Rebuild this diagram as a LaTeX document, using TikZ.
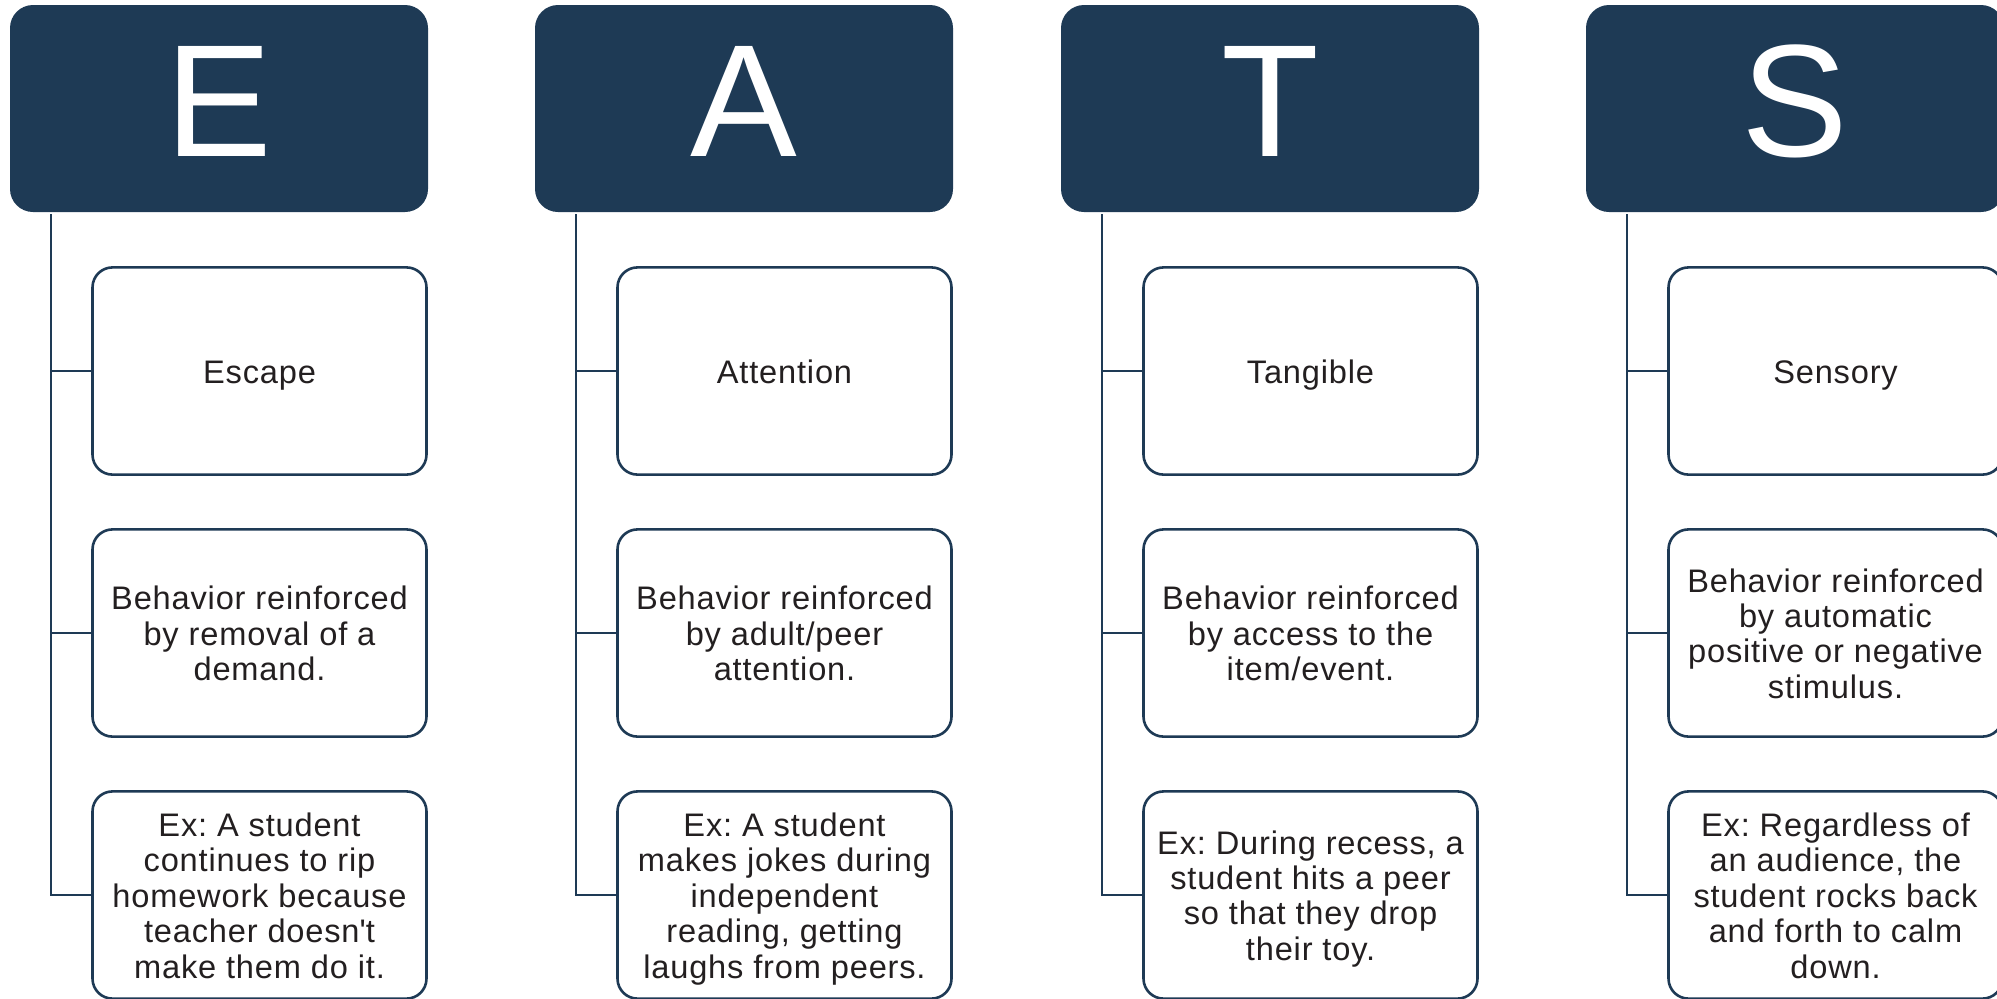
\documentclass[tikz,border=0pt]{standalone}
\usepackage{fontspec}
\setmainfont{Liberation Sans}
\newfontfamily\boxfont[LetterSpace=2.5]{Liberation Sans}
\frenchspacing
\definecolor{navy}{HTML}{1E3A55}
\definecolor{ink}{HTML}{231F20}
% struts that centre a text block on its cap height
\newcommand\topstrut{\rule{0pt}{16.2pt}}
\newcommand\botstrut{\rule[-4pt]{0pt}{0pt}}
\tikzset{
  header/.style={fill=navy, rounded corners=11.5pt, minimum width=209pt,
    minimum height=103.5pt, inner sep=0pt, text=white,
    font=\fontsize{80}{80}\selectfont, text height=57.3pt, text depth=9pt},
  item/.style={draw=navy, line width=1.3pt, fill=white, rounded corners=10pt,
    minimum width=167pt, minimum height=103.6pt, inner sep=0pt},
  itemtext/.style={align=center, text=ink, inner sep=0pt,
    font=\boxfont\fontsize{16.3}{17.7}\selectfont},
  link/.style={draw=navy, line width=1.4pt},
}
% one column: key, left edge, letter, three box texts
\newcommand\eatscol[6]{%
  \node[header] (h#1) at (#2+209, 108.5) {#3};
  \node[item] (b#1a) at (#2+249.5, 371) {};
  \node[item] (b#1b) at (#2+249.5, 633) {};
  \node[item] (b#1c) at (#2+249.5, 895) {};
  \node[itemtext] (l#1a) at (b#1a.center) {\topstrut#4\botstrut};
  \node[itemtext] (l#1b) at (b#1b.center) {\topstrut#5\botstrut};
  \node[itemtext] (l#1c) at (b#1c.center) {\topstrut#6\botstrut};
  \coordinate (t#1) at (#2+41, 214);
  \draw[link] (t#1) |- (b#1c.west);
  \draw[link] (t#1 |- b#1a.west) -- (b#1a.west);
  \draw[link] (t#1 |- b#1b.west) -- (b#1b.west);
}
\begin{document}
\begin{tikzpicture}[x=0.5pt, y=-0.5pt]
  \useasboundingbox (0,0) rectangle (1997,998);
  \clip (0,0) rectangle (1997,998);
  \eatscol{E}{10}{E}{Escape}
    {Behavior reinforced\\by removal of a\\demand.}
    {Ex: A student\\continues to rip\\homework because\\teacher doesn\textquotesingle t\\make them do it.}
  \eatscol{A}{535}{A}{Attention}
    {Behavior reinforced\\by adult/peer\\attention.}
    {Ex: A student\\makes jokes during\\independent\\reading, getting\\laughs from peers.}
  \eatscol{T}{1061}{T}{Tangible}
    {Behavior reinforced\\by access to the\\item/event.}
    {Ex: During recess, a\\student hits a peer\\so that they drop\\their toy.}
  \eatscol{S}{1586}{S}{Sensory}
    {Behavior reinforced\\by automatic\\positive or negative\\stimulus.}
    {Ex: Regardless of\\an audience, the\\student rocks back\\and forth to calm\\down.}
\end{tikzpicture}
\end{document}
